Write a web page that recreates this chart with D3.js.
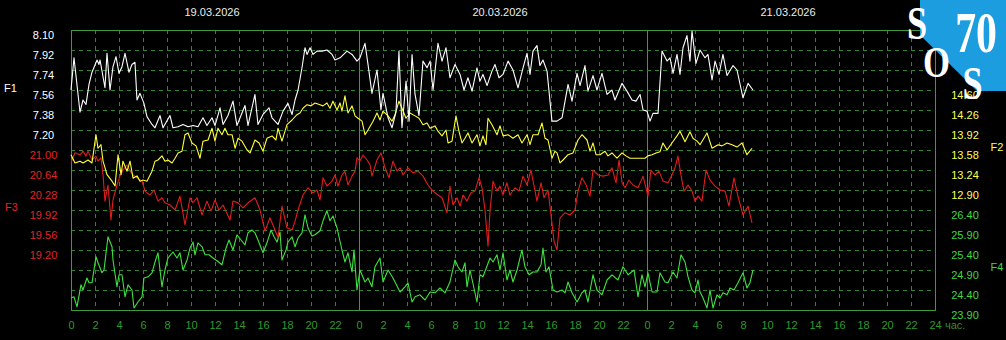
<!DOCTYPE html>
<html>
<head>
<meta charset="utf-8">
<script src="https://cdn.jsdelivr.net/npm/d3@7"></script>
<style>
  html, body { margin: 0; padding: 0; background: #000; }
  svg { display: block; }
</style>
</head>
<body>
<svg id="chart" width="1006" height="340"></svg>
<script>
// time in hours from 19.03.2026 00:00, value
const f1Data = [
  [0,7.56],[0.25,7.85],[0.75,7.36],[1,7.47],[1.25,7.43],[1.5,7.61],[1.75,7.72],[2.17,7.83],[2.33,7.79],[2.42,7.83],[2.83,7.58],[3,7.89],[3.25,7.56],[3.5,7.77],[3.75,7.86],[4,7.71],[4.25,7.77],[4.5,7.89],[4.83,7.72],[5.08,7.79],[5.33,7.81],[5.5,7.47],[5.75,7.53],[6.08,7.44],[6.33,7.32],[6.75,7.25],[7,7.22],[7.42,7.33],[7.67,7.22],[8.25,7.33],[8.5,7.22],[8.92,7.23],[9.33,7.25],[9.75,7.23],[10.17,7.24],[10.58,7.23],[11,7.31],[11.33,7.24],[11.75,7.31],[12,7.24],[12.42,7.40],[12.67,7.25],[13.08,7.33],[13.5,7.46],[13.83,7.24],[14.5,7.42],[14.75,7.24],[15.33,7.52],[15.58,7.25],[16,7.34],[16.5,7.40],[16.75,7.31],[17.25,7.25],[17.67,7.37],[18.08,7.44],[18.42,7.34],[18.67,7.47],[18.92,7.56],[19.25,7.76],[19.5,7.94],[19.67,7.88],[19.92,7.94],[20.17,7.88],[20.5,7.91],[20.92,7.91],[21.33,7.92],[21.75,7.88],[22,7.83],[22.42,7.85],[23,7.91],[23.42,7.88],[23.83,7.82],[24.08,7.85],[24.5,7.98],[24.75,7.79],[25.08,7.53],[25.5,7.74],[25.83,7.38],[26,7.53],[26.42,7.31],[26.75,7.22],[27.08,7.36],[27.33,7.91],[27.58,7.22],[27.92,7.64],[28.17,7.28],[28.42,7.88],[28.67,7.52],[29,7.33],[29.33,7.82],[29.67,7.76],[29.92,7.82],[30.17,7.56],[30.58,7.98],[30.92,7.82],[31.25,7.94],[31.58,7.67],[32,7.79],[32.42,7.70],[32.75,7.56],[33.08,7.67],[33.42,7.55],[33.83,7.76],[34.08,7.64],[34.33,7.70],[34.67,7.60],[35.08,7.73],[35.33,7.79],[35.67,7.67],[36,7.70],[36.42,7.82],[36.83,7.74],[37.25,7.58],[37.67,7.76],[38,7.89],[38.25,7.70],[38.5,7.91],[38.83,7.96],[39.08,7.78],[39.33,7.83],[39.67,7.73],[40.08,7.28],[40.5,7.28],[40.92,7.31],[41.17,7.46],[41.42,7.61],[41.75,7.46],[42.17,7.71],[42.42,7.60],[42.83,7.78],[43.08,7.55],[43.5,7.69],[43.83,7.56],[44.25,7.71],[44.67,7.52],[45.08,7.56],[45.33,7.47],[45.92,7.62],[46.33,7.55],[46.75,7.47],[47.08,7.46],[47.42,7.52],[47.67,7.38],[48,7.37],[48.25,7.28],[48.5,7.35],[48.92,7.35],[49.25,7.91],[49.67,7.82],[49.92,7.85],[50.17,7.71],[50.5,7.88],[50.75,7.70],[51,7.94],[51.33,8.05],[51.58,7.82],[51.75,8.09],[52.08,7.80],[52.42,7.92],[52.83,7.85],[53.08,7.88],[53.42,7.65],[53.67,7.82],[54,7.70],[54.33,7.88],[54.67,7.69],[55.17,7.78],[55.5,7.74],[56,7.49],[56.42,7.62],[56.83,7.56]
];

const f2Data = [
  [0,13.50],[0.33,13.36],[0.75,13.39],[1,13.36],[1.42,13.41],[1.75,13.36],[2.08,13.84],[2.25,13.61],[2.5,13.67],[2.67,13.39],[3,13.16],[3.42,13.05],[3.67,12.97],[3.92,13.50],[4.17,13.16],[4.33,13.39],[4.67,13.22],[4.92,13.39],[5.17,13.10],[5.5,13.14],[5.75,13.05],[6,13.07],[6.33,13.05],[6.75,13.22],[7,13.39],[7.25,13.41],[7.58,13.48],[7.83,13.39],[8.08,13.41],[8.42,13.36],[8.67,13.44],[8.92,13.53],[9.25,13.56],[9.5,13.84],[9.75,13.87],[10.08,13.70],[10.42,13.65],[10.75,13.44],[11,13.73],[11.42,13.75],[11.75,13.95],[12,13.73],[12.25,13.95],[12.58,13.84],[12.83,13.95],[13.08,13.84],[13.42,13.84],[13.67,13.61],[13.92,13.78],[14.25,13.73],[14.67,13.58],[14.92,13.53],[15.33,13.75],[15.67,13.70],[16,13.56],[16.33,13.78],[16.75,13.82],[17.08,13.75],[17.25,13.95],[17.58,13.73],[18,14.01],[18.42,14.09],[18.83,14.18],[19.08,14.21],[19.33,14.29],[19.67,14.35],[20,14.33],[20.33,14.38],[20.75,14.35],[21,14.33],[21.33,14.38],[21.58,14.29],[21.83,14.41],[22.17,14.26],[22.42,14.38],[22.58,14.24],[22.83,14.50],[23.08,14.21],[23.42,14.33],[23.67,14.16],[23.92,14.12],[24.25,14.07],[24.5,13.84],[24.75,13.92],[25.17,14.07],[25.5,14.21],[25.75,14.09],[26,14.24],[26.42,14.16],[26.75,14.07],[27,14.18],[27.33,14.41],[27.58,14.29],[27.92,14.12],[28.25,14.21],[28.67,14.16],[29,14.12],[29.33,14.01],[29.67,14.04],[29.92,13.95],[30.33,13.99],[30.58,13.90],[30.92,13.82],[31.25,13.92],[31.42,13.70],[31.75,13.73],[32.08,14.16],[32.33,13.90],[32.58,13.70],[32.83,13.78],[33.08,13.87],[33.42,13.70],[33.83,13.84],[34.08,13.65],[34.33,13.82],[34.58,13.67],[34.75,14.12],[35.08,14.01],[35.5,13.84],[35.75,13.99],[36,13.82],[36.42,13.84],[36.83,13.78],[37.25,13.84],[37.58,13.70],[38,13.84],[38.25,13.67],[38.5,13.84],[38.92,13.84],[39.25,14.04],[39.5,13.78],[39.75,13.75],[40.08,13.44],[40.33,13.56],[40.5,13.53],[40.75,13.36],[41,13.41],[41.42,13.50],[41.83,13.53],[42.25,13.75],[42.58,13.84],[43,13.75],[43.25,13.56],[43.5,13.70],[43.75,13.50],[44.08,13.50],[44.5,13.56],[44.75,13.48],[45.08,13.53],[45.5,13.44],[45.92,13.53],[46.25,13.48],[46.58,13.44],[47,13.44],[47.42,13.44],[47.83,13.44],[48.08,13.48],[48.42,13.50],[48.75,13.53],[49.08,13.55],[49.33,13.70],[49.67,13.58],[50.08,13.70],[50.5,13.82],[50.75,13.90],[51.17,13.72],[51.58,13.89],[51.83,13.78],[52.17,13.73],[52.42,13.67],[53,13.87],[53.42,13.61],[53.92,13.67],[54.25,13.65],[54.67,13.70],[55.08,13.67],[55.5,13.63],[55.92,13.70],[56.33,13.50],[56.75,13.61]
];

const f3Data = [
  [0,20.77],[0.33,20.95],[0.75,20.91],[1,20.98],[1.25,20.89],[1.42,20.98],[1.75,20.82],[2.08,20.89],[2.25,20.80],[2.5,20.86],[2.67,20.55],[2.83,20.08],[3.08,20.37],[3.33,19.74],[3.5,20.10],[3.83,20.37],[4.08,20.53],[4.33,20.64],[4.67,20.73],[4.92,20.62],[5.17,20.55],[5.5,20.50],[5.92,20.44],[6.17,20.26],[6.58,20.19],[6.92,20.28],[7.25,20.08],[7.58,20.14],[7.83,20.05],[8.25,20.01],[8.67,19.92],[9.08,20.17],[9.5,19.65],[9.92,20.14],[10.17,20.05],[10.5,20.14],[10.92,19.83],[11.33,20.08],[11.67,19.90],[12,20.10],[12.33,19.92],[12.67,20.01],[13.25,19.74],[13.5,20.08],[13.92,20.05],[14.33,19.96],[14.75,20.05],[15.33,20.14],[15.75,19.92],[16.17,19.54],[16.58,19.78],[16.92,19.60],[17.25,19.42],[17.58,19.99],[18,19.60],[18.42,19.56],[18.67,19.72],[18.92,19.92],[19.33,20.19],[19.75,20.32],[20.17,20.23],[20.5,20.28],[20.75,20.10],[21,20.50],[21.33,20.35],[21.75,20.44],[22,20.55],[22.25,20.35],[22.58,20.55],[22.83,20.62],[23.08,20.37],[23.42,20.53],[23.67,20.62],[23.83,20.86],[24.08,20.80],[24.33,20.91],[24.67,20.82],[24.92,20.73],[25.08,20.53],[25.5,20.82],[25.83,20.95],[26.17,20.68],[26.5,20.50],[26.83,20.80],[27.17,20.62],[27.42,20.68],[27.67,20.55],[28.08,20.68],[28.5,20.59],[28.92,20.62],[29.33,20.53],[29.75,20.37],[30.17,20.26],[30.58,20.19],[30.92,20.14],[31.33,19.87],[31.58,20.35],[31.83,20.01],[32.17,20.14],[32.42,19.99],[32.67,20.19],[33,20.08],[33.33,20.23],[33.67,20.26],[34,20.50],[34.25,20.32],[34.5,19.92],[34.75,19.27],[34.92,19.92],[35.17,20.44],[35.5,20.26],[35.75,20.35],[36,20.19],[36.33,20.41],[36.58,20.19],[37,20.32],[37.33,20.26],[37.67,20.53],[38,20.37],[38.33,20.64],[38.83,20.08],[39.17,20.41],[39.42,20.14],[39.75,20.28],[40,19.83],[40.25,19.36],[40.5,19.20],[40.75,19.78],[41.17,19.87],[41.58,19.83],[42,19.92],[42.25,20.26],[42.58,20.50],[42.92,20.37],[43.25,20.17],[43.5,20.64],[43.92,20.55],[44.33,20.53],[44.75,20.55],[45.08,20.68],[45.42,20.41],[45.67,20.82],[45.92,20.41],[46.17,20.32],[46.5,20.46],[46.83,20.37],[47.25,20.32],[47.67,20.53],[48.08,20.17],[48.33,20.64],[48.67,20.55],[49,20.62],[49.33,20.44],[49.75,20.41],[50.08,20.55],[50.33,20.68],[50.58,20.89],[50.83,20.55],[51.08,20.26],[51.42,20.37],[51.75,20.26],[52,20.08],[52.25,20.17],[52.58,20.08],[52.92,20.64],[53.25,20.46],[53.67,20.35],[54.08,20.28],[54.5,20.26],[54.83,19.99],[55.25,20.50],[55.58,20.17],[56,19.83],[56.42,19.99],[56.75,19.69]
];

const f4Data = [
  [0,24.20],[0.25,24.23],[0.5,23.98],[0.83,24.53],[1,24.40],[1.33,24.70],[1.5,24.58],[1.75,24.58],[2.08,25.23],[2.25,25.08],[2.58,24.83],[2.75,24.90],[3.08,25.73],[3.42,25.48],[3.5,25.15],[3.83,24.48],[4,24.78],[4.25,24.78],[4.5,24.23],[4.75,24.53],[5.08,24.40],[5.25,23.95],[5.58,24.10],[5.92,24.23],[6.08,24.70],[6.42,24.73],[6.75,24.83],[7,25.10],[7.25,25.33],[7.58,24.48],[7.83,24.90],[8.08,25.20],[8.5,25.35],[8.83,25.20],[9.08,25.33],[9.33,24.90],[9.67,25.15],[9.92,25.45],[10.17,25.60],[10.33,25.28],[10.58,25.58],[10.92,25.48],[11.17,25.28],[11.5,25.28],[11.83,25.20],[12.17,25.13],[12.58,25.03],[12.92,25.45],[13.17,25.65],[13.5,25.40],[13.83,25.78],[14.17,25.65],[14.5,25.53],[14.75,25.83],[15.08,25.90],[15.33,25.83],[15.58,25.65],[16,25.33],[16.33,25.58],[16.67,25.90],[16.92,25.73],[17.17,25.60],[17.42,25.85],[17.58,25.15],[17.92,25.40],[18.08,25.60],[18.42,25.73],[18.67,25.48],[18.92,25.70],[19.25,25.83],[19.5,26.28],[19.75,25.95],[20.08,25.75],[20.33,25.78],[20.75,25.88],[21,26.13],[21.33,26.38],[21.58,26.13],[21.83,26.25],[22.17,25.95],[22.58,25.40],[22.83,25.10],[23.08,25.33],[23.42,24.85],[23.58,25.40],[23.83,24.40],[24.08,24.90],[24.5,24.60],[24.75,24.70],[25.08,24.48],[25.33,24.98],[25.75,25.20],[26,24.60],[26.42,24.90],[26.83,24.70],[27.42,24.35],[27.83,24.48],[28.08,24.58],[28.42,24.10],[28.67,24.23],[29.08,24.28],[29.5,24.15],[29.92,24.35],[30.33,24.33],[30.75,24.45],[31.17,24.33],[31.58,24.60],[32,25.15],[32.25,24.98],[32.58,24.85],[32.83,25.08],[33,24.48],[33.25,24.90],[33.83,24.10],[34.08,24.78],[34.33,24.73],[34.92,25.20],[35.17,25.10],[35.5,25.28],[35.75,24.90],[36,25.33],[36.33,24.65],[36.58,24.90],[36.83,24.60],[37.17,24.90],[37.58,25.40],[37.83,24.98],[38.17,24.78],[38.5,24.85],[38.83,24.85],[39.17,25.03],[39.33,25.45],[39.58,24.85],[39.83,24.98],[40.17,24.40],[40.5,24.35],[40.92,24.40],[41.17,24.33],[41.42,24.60],[41.75,24.33],[42.17,24.10],[42.58,24.33],[42.83,24.40],[43.08,24.10],[43.5,24.78],[43.83,24.40],[44.25,24.28],[44.67,24.65],[45.08,24.78],[45.58,24.65],[46,24.98],[46.42,24.78],[46.92,24.90],[47.25,24.23],[47.58,24.78],[47.83,24.48],[48.08,24.83],[48.42,24.35],[48.83,24.35],[49.08,24.83],[49.5,24.60],[49.75,24.58],[50.17,24.85],[50.5,24.70],[50.83,25.28],[51.17,25.10],[51.42,24.73],[51.75,24.40],[52,24.33],[52.25,24.65],[52.42,24.35],[52.67,24.20],[53,23.95],[53.25,24.40],[53.5,23.95],[53.83,24.28],[54.08,24.20],[54.33,24.33],[54.67,24.28],[54.92,24.45],[55.25,24.40],[55.58,24.58],[56,24.83],[56.33,24.45],[56.58,24.58],[56.83,24.90]
];

const f1Ticks = [8.10, 7.92, 7.74, 7.56, 7.38, 7.20];
const f2Ticks = [14.60, 14.26, 13.92, 13.58, 13.24, 12.90];
const f3Ticks = [21.00, 20.64, 20.28, 19.92, 19.56, 19.20];
const f4Ticks = [26.40, 25.90, 25.40, 24.90, 24.40, 23.90];
const hourTicks = d3.range(0, 73, 2);
const dayLabels = ['19.03.2026', '20.03.2026', '21.03.2026'];

const svg = d3.select('#chart');
const font = '"Liberation Sans", Arial, sans-serif';

svg.append('rect').attr('width', 1006).attr('height', 340).attr('fill', '#000');

const x = d3.scaleLinear().domain([0, 72]).range([71, 935]);
const yF1 = d3.scaleLinear().domain([5.58, 8.10]).range([310, 30]);
const yF2 = d3.scaleLinear().domain([10.86, 15.62]).range([310, 30]);
const yF3 = d3.scaleLinear().domain([18.12, 23.16]).range([310, 30]);
const yF4 = d3.scaleLinear().domain([23.90, 30.90]).range([310, 30]);

const gridColor = '#2f862f';
const frameColor = '#3f9a3f';

// grid
const grid = svg.append('g').attr('shape-rendering', 'crispEdges');
grid.selectAll('.hgrid')
  .data(d3.range(1, 14).map((k) => 23.9 + 0.5 * k))
  .enter()
  .append('line')
  .attr('x1', x(0)).attr('x2', x(72))
  .attr('y1', (d) => Math.round(yF4(d)) + 0.5)
  .attr('y2', (d) => Math.round(yF4(d)) + 0.5)
  .attr('stroke', gridColor)
  .attr('stroke-dasharray', '4,4');

grid.selectAll('.vgrid')
  .data(hourTicks.filter((h) => h % 24 !== 0))
  .enter()
  .append('line')
  .attr('x1', (d) => x(d) + 0.5).attr('x2', (d) => x(d) + 0.5)
  .attr('y1', 30).attr('y2', 310)
  .attr('stroke', gridColor)
  .attr('stroke-dasharray', '4,4');

// day boundaries
grid.selectAll('.dayline')
  .data([24, 48])
  .enter()
  .append('line')
  .attr('x1', (d) => x(d) + 0.5).attr('x2', (d) => x(d) + 0.5)
  .attr('y1', 30).attr('y2', 310)
  .attr('stroke', frameColor);

grid.append('rect')
  .attr('x', x(0) + 0.5).attr('y', 30.5)
  .attr('width', x(72) - x(0)).attr('height', 280)
  .attr('fill', 'none')
  .attr('stroke', frameColor);

// series
const series = [
  { data: f4Data, y: yF4, color: '#3fe23f' },
  { data: f3Data, y: yF3, color: '#e11d1d' },
  { data: f2Data, y: yF2, color: '#ffff3c' },
  { data: f1Data, y: yF1, color: '#ffffff' }
];

series.forEach((s) => {
  const line = d3.line()
    .x((d) => x(d[0]))
    .y((d) => s.y(d[1]));
  svg.append('path')
    .datum(s.data)
    .attr('d', line)
    .attr('fill', 'none')
    .attr('stroke', s.color)
    .attr('stroke-width', 1.1)
    .attr('stroke-linejoin', 'round');
});

// value axes
function valueAxis(axisFn, scale, ticks, cx, color) {
  const g = svg.append('g')
    .attr('transform', `translate(${cx},0)`)
    .call(axisFn(scale).tickValues(ticks).tickSize(0).tickPadding(0).tickFormat(d3.format('.2f')));
  g.select('.domain').remove();
  g.selectAll('text')
    .attr('x', 0)
    .attr('dy', 8)
    .attr('text-anchor', 'middle')
    .attr('fill', color)
    .style('font-family', font)
    .style('font-size', '11px');
  return g;
}

valueAxis(d3.axisLeft, yF1, f1Ticks, 43.5, '#ffffff');
valueAxis(d3.axisLeft, yF3, f3Ticks, 43.5, '#e22424');
valueAxis(d3.axisRight, yF2, f2Ticks, 965, '#ffff50');
valueAxis(d3.axisRight, yF4, f4Ticks, 965, '#3fd83f');

const names = [
  { text: 'F1', x: 10.5, y: 91.5, color: '#ffffff' },
  { text: 'F3', x: 11.5, y: 211, color: '#e22424' },
  { text: 'F2', x: 997, y: 150.5, color: '#ffff50' },
  { text: 'F4', x: 997, y: 271, color: '#3fd83f' }
];
svg.selectAll('.sname')
  .data(names)
  .enter()
  .append('text')
  .attr('x', (d) => d.x)
  .attr('y', (d) => d.y)
  .attr('text-anchor', 'middle')
  .attr('fill', (d) => d.color)
  .style('font-family', font)
  .style('font-size', '11px')
  .text((d) => d.text);

// hour axis
const hourAxis = svg.append('g')
  .attr('transform', 'translate(0,310)')
  .call(d3.axisBottom(x).tickValues(hourTicks).tickSize(0).tickFormat((d) => (d === 72 ? 24 : d % 24)));
hourAxis.select('.domain').remove();
hourAxis.selectAll('text')
  .attr('y', 19)
  .attr('dy', 0)
  .attr('fill', '#2f9a2f')
  .style('font-family', font)
  .style('font-size', '11px');

svg.append('text')
  .attr('x', 945).attr('y', 329)
  .attr('fill', '#3a8a3a')
  .style('font-family', font)
  .style('font-size', '11px')
  .text('час.');

// dates
svg.selectAll('.day')
  .data(dayLabels)
  .enter()
  .append('text')
  .attr('x', (d, i) => x(12 + 24 * i) - 3)
  .attr('y', 16)
  .attr('text-anchor', 'middle')
  .attr('fill', '#ececec')
  .style('font-family', font)
  .style('font-size', '11px')
  .text((d) => d);

// logo
const logo = svg.append('g');
logo.append('path')
  .attr('d', 'M920,0 L1006,0 L1006,91 L977,91 L920,35 Z')
  .attr('fill', '#1b9de0');
const logoText = [
  { t: 'S', cx: 917, by: 39, size: 47, sx: 0.77 },
  { t: '70', cx: 976, by: 52, size: 58, sx: 0.72 },
  { t: 'O', cx: 936.5, by: 77, size: 45, sx: 0.77 },
  { t: 'S', cx: 972.5, by: 99, size: 47, sx: 0.77 }
];
logo.selectAll('text')
  .data(logoText)
  .enter()
  .append('text')
  .attr('transform', (d) => `translate(${d.cx},${d.by}) scale(${d.sx},1)`)
  .attr('text-anchor', 'middle')
  .attr('fill', '#fff')
  .style('font-family', '"Liberation Serif", "Times New Roman", serif')
  .style('font-weight', 'bold')
  .style('font-size', (d) => d.size + 'px')
  .text((d) => d.t);
</script>
</body>
</html>
